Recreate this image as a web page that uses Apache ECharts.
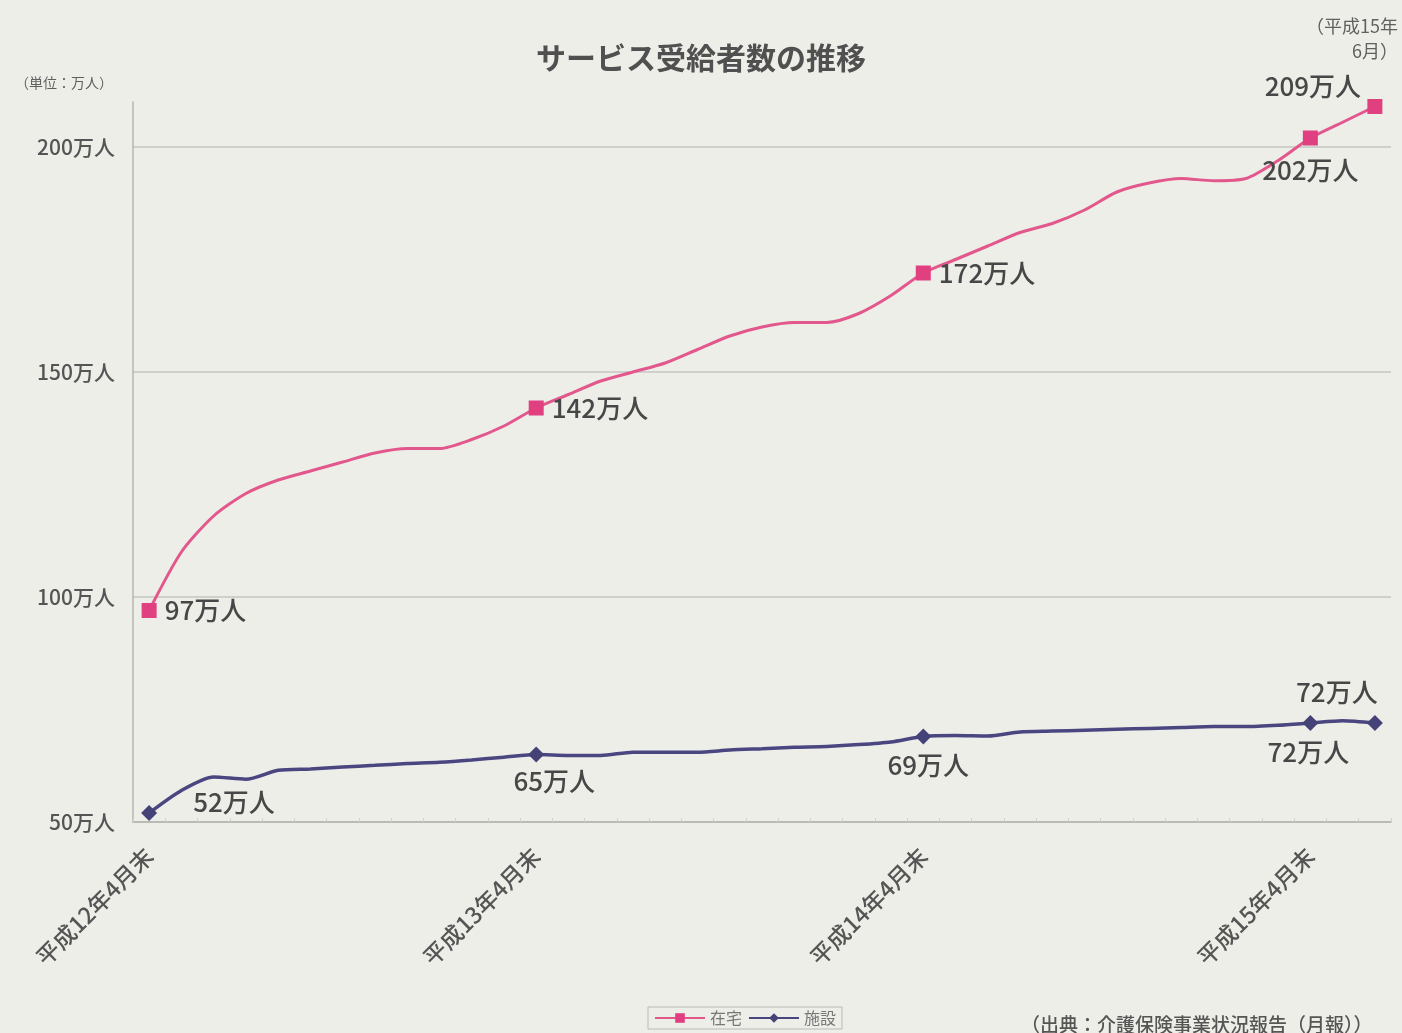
<!DOCTYPE html>
<html><head><meta charset="utf-8">
<script src="https://cdn.jsdelivr.net/npm/echarts@6/dist/echarts.min.js"></script>
<style>html,body{margin:0;padding:0;background:#eeeee9}#c{width:1402px;height:1033px}</style>
</head><body><div id="c"></div>
<script>
const months = [
  '平成12年4月末','平成12年5月末','平成12年6月末','平成12年7月末','平成12年8月末','平成12年9月末',
  '平成12年10月末','平成12年11月末','平成12年12月末','平成13年1月末','平成13年2月末','平成13年3月末',
  '平成13年4月末','平成13年5月末','平成13年6月末','平成13年7月末','平成13年8月末','平成13年9月末',
  '平成13年10月末','平成13年11月末','平成13年12月末','平成14年1月末','平成14年2月末','平成14年3月末',
  '平成14年4月末','平成14年5月末','平成14年6月末','平成14年7月末','平成14年8月末','平成14年9月末',
  '平成14年10月末','平成14年11月末','平成14年12月末','平成15年1月末','平成15年2月末','平成15年3月末',
  '平成15年4月末','平成15年5月末','平成15年6月'
];
const zaitaku = [
  97, 110, 118, 123, 126, 128, 130, 132, 133, 133, 135, 138,
  142, 145, 148, 150, 152, 155, 158, 160, 161, 161, 163, 167,
  172, 175, 178, 181, 183, 186, 190, 192, 193, 192.5, 193, 197,
  202, 205.5, 209
];
const shisetsu = [
  52, 57, 60, 59.5, 61.5, 61.8, 62.2, 62.6, 63, 63.3, 63.8, 64.4,
  65, 64.8, 64.8, 65.5, 65.5, 65.5, 66, 66.3, 66.6, 66.8, 67.2, 67.8,
  69, 69.2, 69.1, 70, 70.2, 70.4, 70.6, 70.8, 71, 71.2, 71.2, 71.5,
  72, 72.5, 72
];
const yTickValues = [50, 100, 150, 200];
const labeledIdx = [0, 12, 24, 36, 38];
const seriesNames = ['在宅', '施設'];

const labelColor = '#474747';
const labelFont = 'Noto Sans CJK JP';
const pinkLabelStyle = {
  0: {position: 'right', distance: 8},
  12: {position: 'right', distance: 8},
  24: {position: 'right', distance: 8},
  36: {position: 'bottom', distance: 12},
  38: {position: 'top', distance: 0, offset: [-62, 0]}
};
const blueLabelStyle = {
  0: {position: 'right', distance: 36, offset: [0, -11]},
  12: {position: 'bottom', distance: 6, offset: [18, 0]},
  24: {position: 'bottom', distance: 8, offset: [5, 0]},
  36: {position: 'bottom', distance: 8, offset: [-2, 0]},
  38: {position: 'top', distance: 10, offset: [-38, 0]}
};
function buildData(arr, styles, symbol) {
  return arr.map((v, i) => {
    if (labeledIdx.includes(i)) {
      return {value: v, symbol: symbol, label: Object.assign({show: true}, styles[i])};
    }
    return {value: v, symbol: 'none'};
  });
}

const chart = echarts.init(document.getElementById('c'));
chart.setOption({
  backgroundColor: '#eeeee9',
  textStyle: {fontFamily: labelFont},
  title: [
    {text: 'サービス受給者数の推移', left: 'center', top: 38,
     textStyle: {fontSize: 30, fontWeight: 'bold', color: '#505050', fontFamily: labelFont}},
    {text: '（単位：万人）', left: 10, top: 71,
     textStyle: {fontSize: 14, fontWeight: 'normal', color: '#606060', fontFamily: labelFont}},
    {text: '（出典：介護保険事業状況報告（月報））', left: 1016, top: 1010,
     textStyle: {fontSize: 19, fontWeight: 500, color: '#555', fontFamily: labelFont}}
  ],
  graphic: [
    {type: 'text', right: 4, top: 17,
     style: {text: '（平成15年', fill: '#606060', font: '18px "Noto Sans CJK JP"'}},
    {type: 'text', right: 4, top: 42,
     style: {text: '6月）', fill: '#606060', font: '18px "Noto Sans CJK JP"'}}
  ],
  legend: {
    data: seriesNames, left: 648, top: 1007,
    itemWidth: 50, itemHeight: 12, itemGap: 6,
    borderColor: '#b8b8b8', borderWidth: 1, padding: [3, 6],
    textStyle: {fontSize: 16, color: '#777', fontFamily: labelFont}
  },
  grid: {left: 133, right: 11, top: 102, bottom: 211},
  xAxis: {
    type: 'category', data: months, boundaryGap: true,
    axisLine: {lineStyle: {color: '#b5b5b0', width: 1.5}},
    axisTick: {show: true, inside: true, length: 4, interval: 0, lineStyle: {color: '#d2d2cc'}},
    axisLabel: {interval: 11, rotate: 45, margin: 30, fontSize: 23, fontWeight: 500, color: '#555', fontFamily: labelFont}
  },
  yAxis: {
    type: 'value', min: 50, max: 210, interval: 50,
    axisLine: {show: true, lineStyle: {color: '#b5b5b0', width: 1.5}},
    axisTick: {show: false},
    splitLine: {show: true, lineStyle: {color: ['#c5c5c0', '#c5c5c0', '#c5c5c0', '#c5c5c0', 'rgba(0,0,0,0)'], width: 1.5}},
    axisLabel: {showMaxLabel: false, margin: 18, fontSize: 21, fontWeight: 500, color: '#555', fontFamily: labelFont,
      formatter: v => yTickValues.includes(v) ? v + '万人' : ''}
  },
  series: [
    {
      name: seriesNames[0], type: 'line', smooth: 0.25, showAllSymbol: true,
      symbol: 'rect', symbolSize: 15,
      data: buildData(zaitaku, pinkLabelStyle, 'rect'),
      lineStyle: {color: '#e2578c', width: 3},
      itemStyle: {color: '#e03f80'},
      label: {show: false, formatter: p => p.value + '万人', fontSize: 26, fontWeight: 500, color: labelColor, fontFamily: labelFont},
      z: 3
    },
    {
      name: seriesNames[1], type: 'line', smooth: 0.25, showAllSymbol: true,
      symbol: 'diamond', symbolSize: 16,
      data: buildData(shisetsu, blueLabelStyle, 'diamond'),
      lineStyle: {color: '#4a4780', width: 3.5},
      itemStyle: {color: '#454278'},
      label: {show: false, formatter: p => p.value + '万人', fontSize: 26, fontWeight: 500, color: labelColor, fontFamily: labelFont},
      z: 3
    }
  ],
  animation: false
});
</script>
</body></html>
